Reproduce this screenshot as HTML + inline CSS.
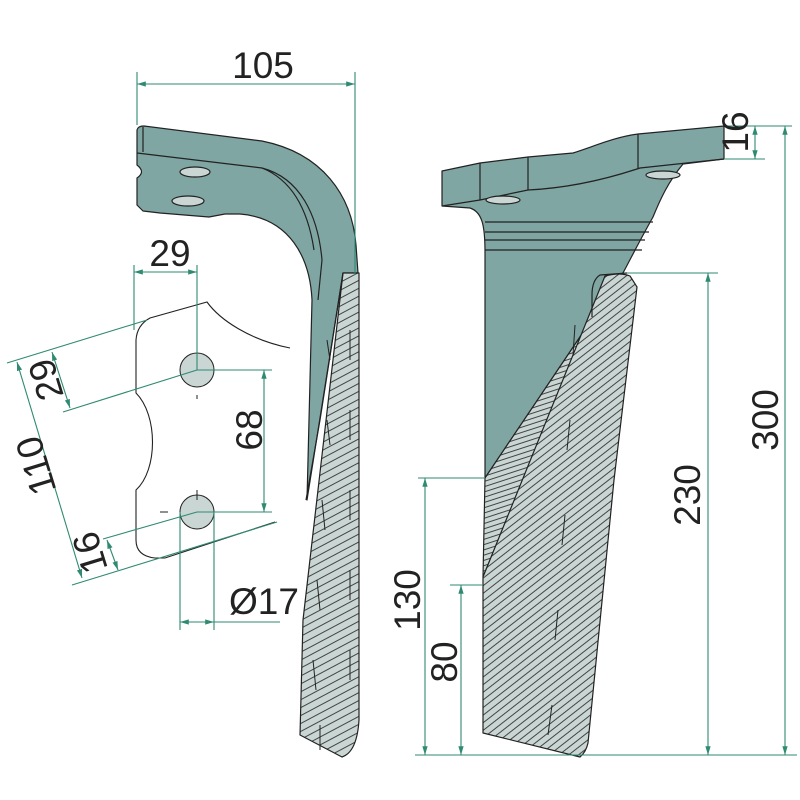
<!DOCTYPE html>
<html><head><meta charset="utf-8"><style>html,body{margin:0;padding:0;background:#fff}svg{display:block}text{font-family:"Liberation Sans",sans-serif;fill:#222}</style></head>
<body>
<svg width="800" height="800" viewBox="0 0 800 800" xmlns="http://www.w3.org/2000/svg">
<defs>
<pattern id="h1" patternUnits="userSpaceOnUse" width="7" height="7" patternTransform="rotate(-28)"><rect width="7" height="7" fill="#c9d6d3"/><line x1="0" y1="3" x2="7" y2="3" stroke="#333" stroke-width="0.9"/></pattern>
<pattern id="h2" patternUnits="userSpaceOnUse" width="6" height="6" patternTransform="rotate(-38)"><rect width="6" height="6" fill="#c9d6d3"/><line x1="0" y1="3" x2="6" y2="3" stroke="#333" stroke-width="0.9"/></pattern>
<pattern id="h3" patternUnits="userSpaceOnUse" width="5" height="5" patternTransform="rotate(-18)"><rect width="5" height="5" fill="#c9d6d3"/><line x1="0" y1="2.5" x2="5" y2="2.5" stroke="#333" stroke-width="0.9"/></pattern>
<marker id="a" viewBox="0 0 10 10" refX="10" refY="5" markerWidth="8" markerHeight="8" orient="auto-start-reverse"><path d="M0,2 L10,5 L0,8 Z" fill="#2f8a72"/></marker>
</defs>

<g stroke="#222" stroke-width="1.2" stroke-linejoin="round">
<path d="M137,130 Q138,126 144,126 L262,141 C322,153 352,195 356,245 L358,273 L343,273 L307,500 L312,300 C310,258 290,218 240,214 L225,214 L209,217 L160,213 L143,211 L137,205 L137,178 Q146,172 137,165 Z" fill="#7fa6a2"/>
<path d="M137,153 L262,168 C300,178 318,215 322,260 L318,300" fill="none"/>
<path d="M262,168 C292,180 308,210 314,250" fill="none"/>
<path d="M143,127 L143,152" fill="none"/>
<ellipse cx="195" cy="172" rx="15" ry="5" fill="#c9d6d3"/>
<ellipse cx="188" cy="201" rx="16" ry="5" fill="#c9d6d3"/>
<path d="M343,273 L359,273 L359,720 Q357,752 342,757 L300,735 L303,620 Z" fill="url(#h1)"/>
<path d="M343,273 L320,420 L306,500" fill="none"/>

<path d="M442,171 L480,163 L528,157 L573,153 C595,146 615,137 638,134 L724,126 L724,159 L683,164 C668,182 660,200 653,217 C640,240 630,260 623,273 L485,478 L485,252 C485,225 482,212 470,208 L442,206 Z" fill="#7fa6a2"/>
<path d="M442,206 L480,200 L528,190 C570,188 610,178 640,168 L724,159" fill="none"/>
<path d="M480,163 L480,200 M528,157 L528,190 M638,134 L638,168" fill="none"/>
<path d="M485,222 L653,222 M485,232 L649,232 M485,240 L645,240 M485,250 L642,250" fill="none"/>
<ellipse cx="503" cy="200" rx="17" ry="4" fill="#c9d6d3"/>
<ellipse cx="663" cy="175" rx="17" ry="4" fill="#c9d6d3"/>
<path d="M623,273 L485,478 L483,577 L605,282 Z" fill="url(#h3)"/>
<path d="M605,276 Q620,272 630,276 L637,287 L614,480 L588,743 Q586,752 580,757 L483,733 L483,577 Z" fill="url(#h2)"/>
<path d="M627,273 L600,275 Q592,280 592,295 L592,317" fill="none"/>
</g>
<g stroke="#222" stroke-width="1" fill="none">
<path d="M327,340 L330,360 M350,330 L350,360 M327,420 L330,445 M350,410 L350,440 M322,500 L325,530 M350,490 L350,520 M317,580 L320,610 M350,570 L350,600 M313,660 L316,690 M350,650 L350,680 M320,725 L320,750"/>
<path d="M575,325 L573,355 M570,420 L567,450 M565,515 L562,545 M558,610 L555,640 M552,705 L548,735"/>
</g>

<g stroke="#222" stroke-width="1.1" fill="none">
<path d="M290,348 C250,340 220,320 207,302 L150,318 Q137,325 136,340 L136,393 C158,415 158,470 136,490 L136,540 Q136,556 155,558 L165,558 L275,522"/>
</g>
<circle cx="197" cy="370" r="17" fill="#c9d6d3" stroke="#222" stroke-width="1"/>
<circle cx="197" cy="512" r="17" fill="#c9d6d3" stroke="#222" stroke-width="1"/>
<path d="M197,395 L197,399 M160,512 L168,512 M197,490 L197,500" stroke="#222" stroke-width="1"/>

<g stroke="#2f8a72" stroke-width="1.1" fill="none">
<path d="M137,72 L137,125 M355,72 L355,275"/>
<path d="M137,84 L355,84" marker-start="url(#a)" marker-end="url(#a)"/>
<path d="M134,265 L134,330 M197,265 L197,370"/>
<path d="M134,272 L197,272" marker-start="url(#a)" marker-end="url(#a)"/>
<path d="M197,370 L272,370 M197,512 L272,512"/>
<path d="M264,370 L264,512" marker-start="url(#a)" marker-end="url(#a)"/>
<path d="M180,512 L180,630 M214,512 L214,630 M214,622 L280,622"/>
<path d="M180,622 L214,622" marker-start="url(#a)" marker-end="url(#a)"/>
<path d="M7,363 L147,320 M63,412 L197,370 M103,539 L197,512 M72,585 L277,522"/>
<path d="M17,362 L82,578" marker-start="url(#a)" marker-end="url(#a)"/>
<path d="M52,352 L70,408" marker-start="url(#a)" marker-end="url(#a)"/>
<path d="M107,540 L118,570" marker-start="url(#a)" marker-end="url(#a)"/>
<path d="M724,126 L792,126 M724,159 L765,159"/>
<path d="M755,126 L755,159" marker-start="url(#a)" marker-end="url(#a)"/>
<path d="M785,126 L785,755" marker-start="url(#a)" marker-end="url(#a)"/>
<path d="M627,273 L718,273"/>
<path d="M708,273 L708,755" marker-start="url(#a)" marker-end="url(#a)"/>
<path d="M418,478 L485,478 M450,585 L483,585"/>
<path d="M425,478 L425,755" marker-start="url(#a)" marker-end="url(#a)"/>
<path d="M461,585 L461,755" marker-start="url(#a)" marker-end="url(#a)"/>
<path d="M415,755 L797,755"/>
</g>

<g font-size="37">
<text x="263" y="78" text-anchor="middle">105</text>
<text x="170" y="266" text-anchor="middle">29</text>
<text x="264" y="614" text-anchor="middle">Ø17</text>
<text transform="translate(262,430) rotate(-90)" text-anchor="middle">68</text>
<text transform="translate(778,420) rotate(-90)" text-anchor="middle">300</text>
<text transform="translate(700,495) rotate(-90)" text-anchor="middle">230</text>
<text transform="translate(420,600) rotate(-90)" text-anchor="middle">130</text>
<text transform="translate(457,662) rotate(-90)" text-anchor="middle">80</text>
<text transform="translate(748,132) rotate(-90)" text-anchor="middle">16</text>
<text transform="translate(48,462) rotate(-107)" text-anchor="middle">110</text>
<text transform="translate(58,376) rotate(-107)" text-anchor="middle">29</text>
<text transform="translate(102,549) rotate(-107)" text-anchor="middle">16</text>
</g>
</svg>
</body></html>
